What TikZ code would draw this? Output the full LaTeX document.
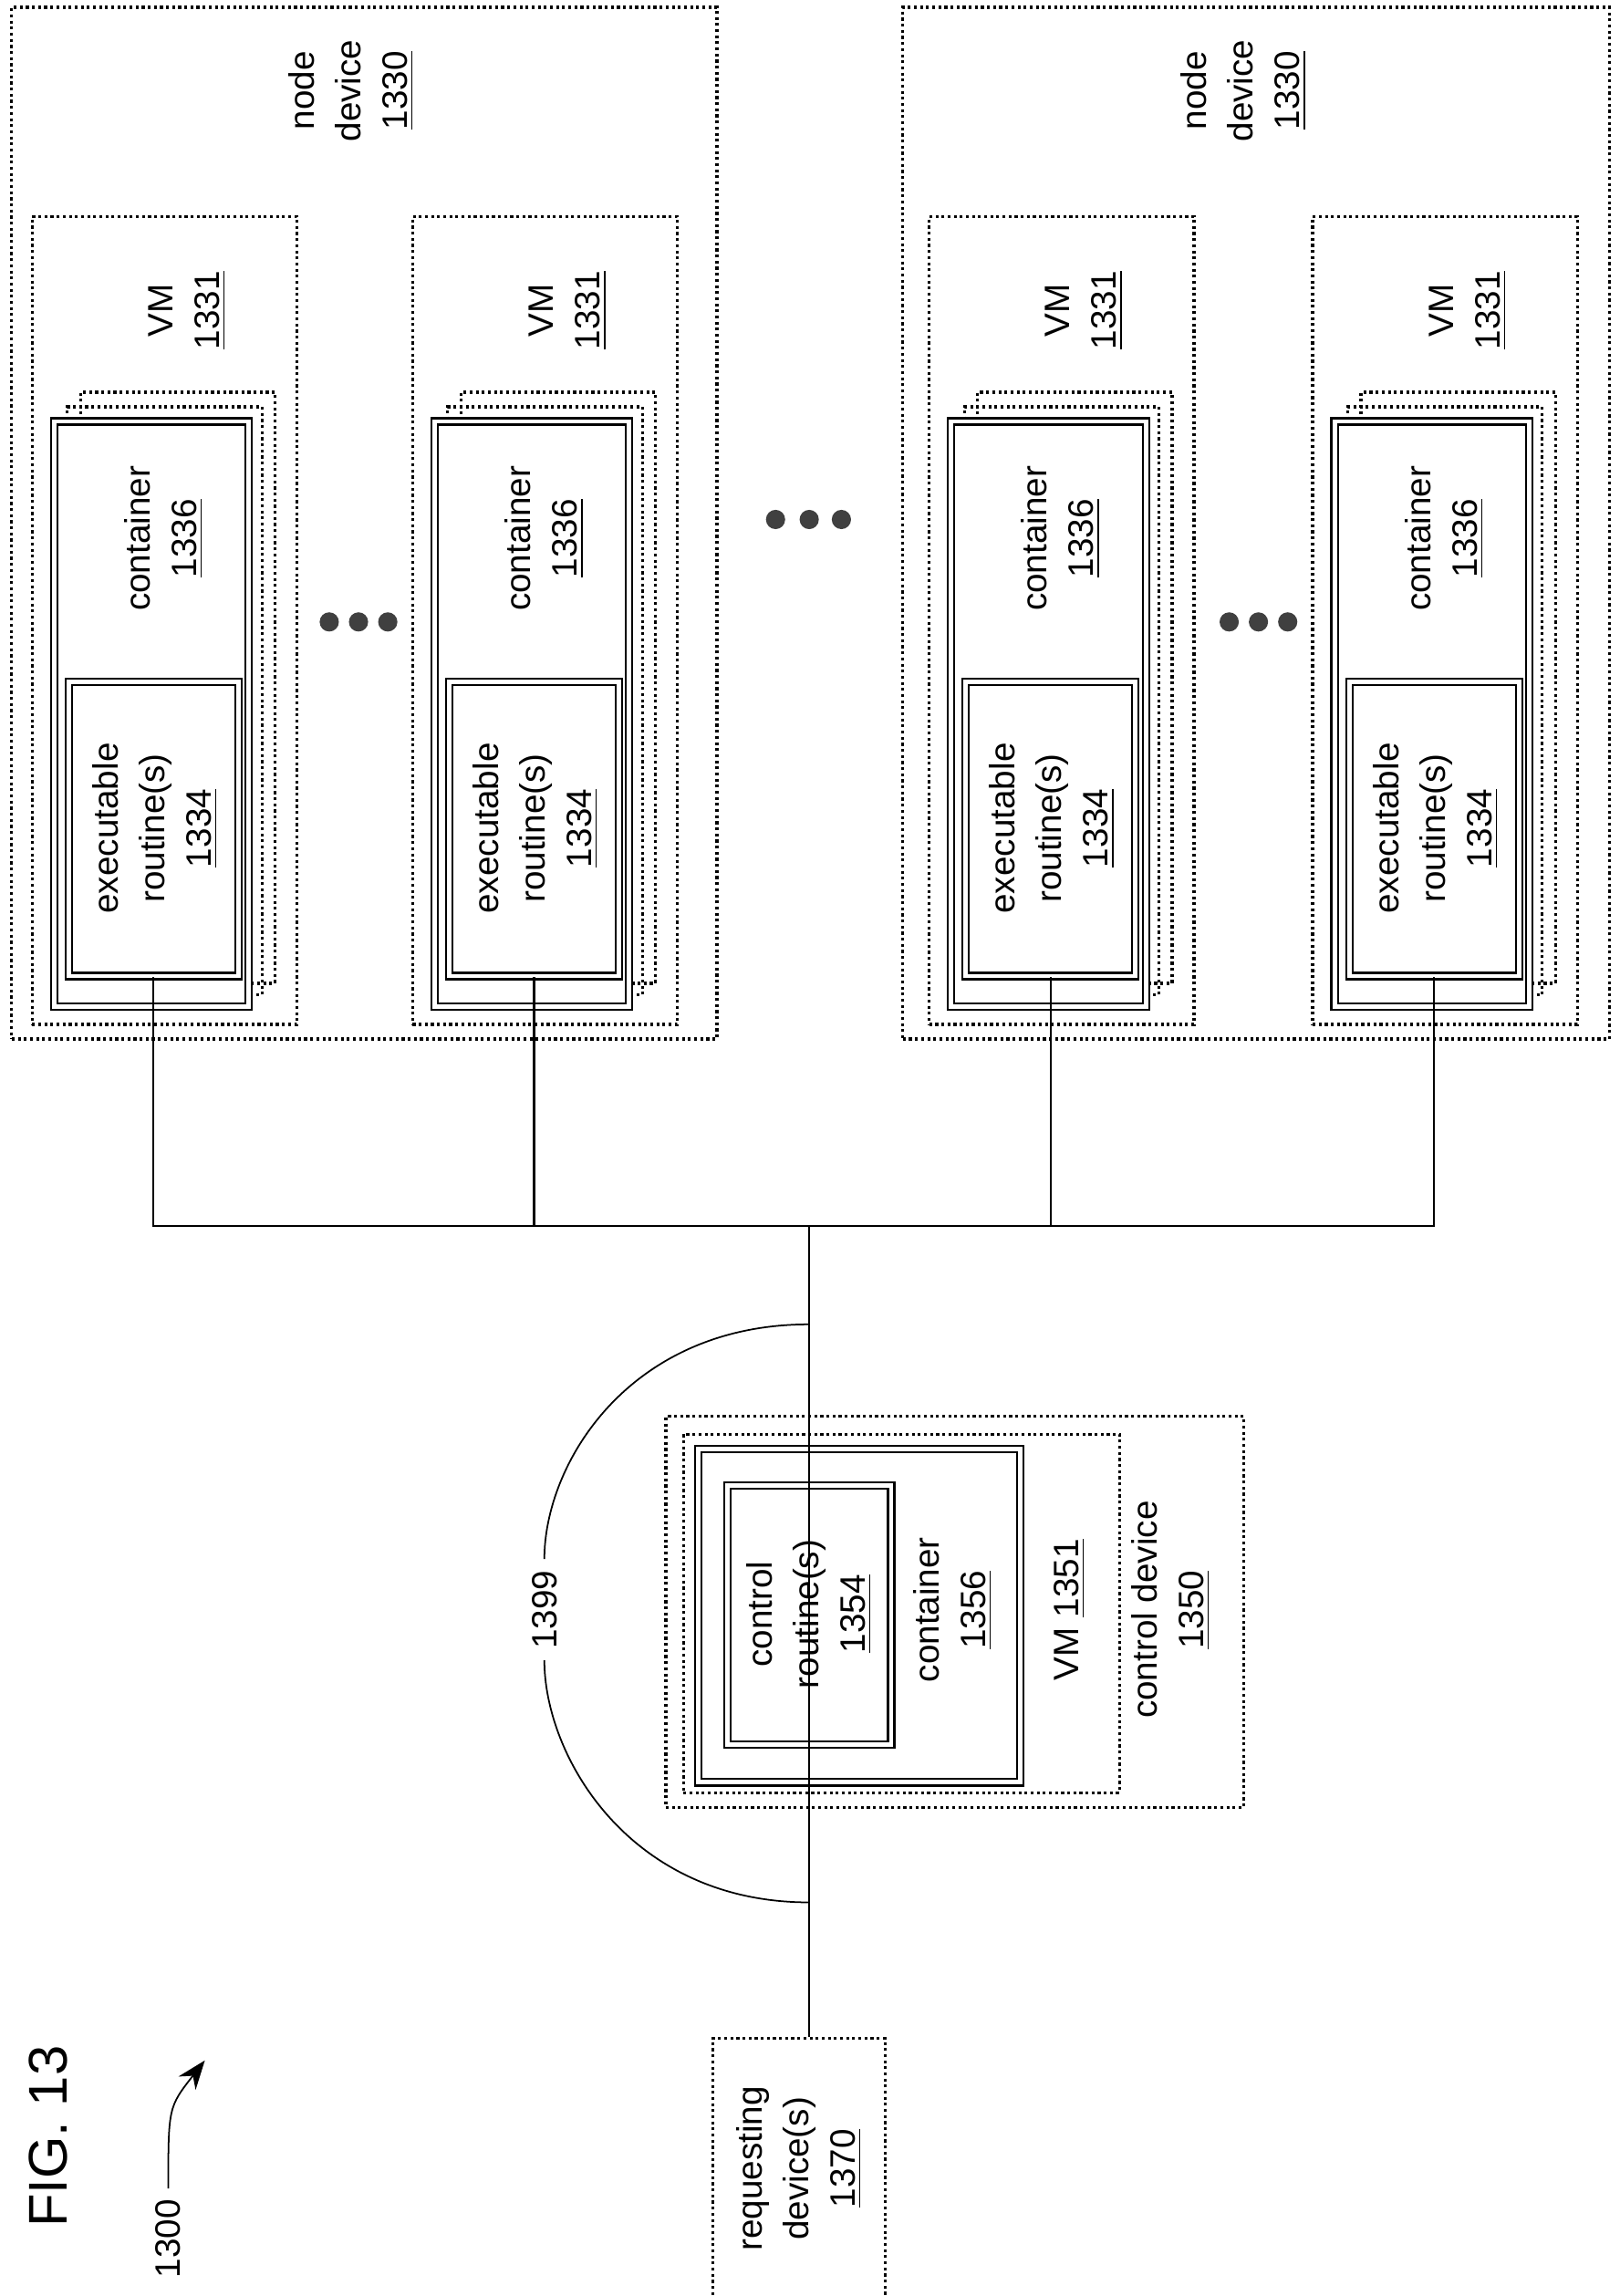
\documentclass[tikz,border=0pt]{standalone}
\usepackage{fontspec}
\setmainfont{Liberation Sans}
\usetikzlibrary{arrows.meta,fit,positioning}

\tikzset{
  dotbox/.style={draw, densely dotted, line width=0.9pt, inner sep=0pt},
  solbox/.style={draw, line width=0.6pt, double, double distance=1.4pt, inner sep=0pt},
  lbl/.style={rotate=90, align=center, font=\fontsize{11}{14.5}\selectfont},
  wire/.style={line width=0.6pt},
  blob/.style={circle, fill=black!75, inner sep=0pt, minimum size=6pt}
}

\newcommand{\vmstack}[2]{% #1 = x offset, #2 = name
  \node[dotbox, fit={(#1+22,148)(#1+203,700)}] (#2vm) {};
  \node[dotbox, fit={(#1+55,268)(#1+188,672)}] (#2c3) {};
  \node[dotbox, fit={(#1+46,278)(#1+179,680)}] (#2c2) {};
  \node[solbox, fill=white, fit={(#1+37,288)(#1+170,688)}] (#2c) {};
  \node[solbox, fit={(#1+47,466)(#1+163,667)}] (#2ex) {};
  \node[lbl] at (#1+106,566) (#2exl) {executable\\routine(s)\\\underline{1334}};
  \node[lbl] at (#1+112,368) (#2cl) {container\\\underline{1336}};
  \node[lbl] at (#1+128,212) (#2vml) {VM\\\underline{1331}};
}

\begin{document}
\begin{tikzpicture}[x=0.016043cm, y=-0.016043cm]
  \useasboundingbox (0,0) rectangle (1107,1569);

  % node devices
  \node[dotbox, fit={(8,5)(490,710)}] (nd1) {};
  \node[dotbox, fit={(617,5)(1100,710)}] (nd2) {};
  \node[lbl] at (240,62) (nd1l) {node\\device\\\underline{1330}};
  \node[lbl] at (850,62) (nd2l) {node\\device\\\underline{1330}};
  \vmstack{0}{a}
  \vmstack{260}{b}
  \vmstack{613}{c}
  \vmstack{875}{d}

  % ellipsis dots
  \foreach \xx in {225,245,265,530,553,575,840,860,880} {
    \pgfmathsetmacro{\yy}{(\xx>500 && \xx<600) ? 355 : 425}
    \node[blob] at (\xx,\yy) {};
  }

  % control device
  \node[dotbox, fit={(455,968)(850,1235)}] (cd) {};
  \node[dotbox, fit={(467,980)(765,1225)}] (cvm) {};
  \node[solbox, fit={(477,990)(697,1218)}] (cc) {};
  \node[solbox, fit={(497,1015)(609,1192)}] (cr) {};
  \node[lbl] at (553,1103) (crl) {control\\routine(s)\\\underline{1354}};
  \node[lbl] at (651,1100) (ccl) {container\\\underline{1356}};
  \node[lbl] at (731,1100) (cvml) {VM \underline{1351}};
  \node[lbl] at (800,1100) (cdl) {control device\\\underline{1350}};

  % requesting device
  \node[dotbox, fit={(487,1393)(605,1575)}] (rq) {};
  \node[lbl] at (546,1482) (rql) {requesting\\device(s)\\\underline{1370}};

  % bus
  \coordinate (hub) at (553,838);
  \draw[wire] (aex.south) -- (aex.south |- hub) -- (dex.south |- hub) -- (dex.south);
  \draw[wire] (bex.south) -- (bex.south |- hub);
  \draw[wire] (cex.south) -- (cex.south |- hub);
  \draw[wire] (hub) -- (hub |- rq.north);

  % 1399 arc
  \node[lbl, font=\fontsize{11}{13}\selectfont] at (372,1100) (netl) {1399};
  \coordinate (arcT) at (553,905);
  \coordinate (arcB) at (553,1300);
  \draw[line width=0.5pt] (arcT) .. controls (430,905) and (372,1000) .. (netl.east);
  \draw[line width=0.5pt] (netl.west) .. controls (372,1200) and (430,1300) .. (arcB);

  % figure label
  \node[lbl, font=\fontsize{17}{20}\selectfont] at (33,1460) (fig) {FIG. 13};
  \node[lbl, font=\fontsize{11}{13}\selectfont] at (115,1530) (ref) {1300};
  \coordinate (refh) at (140,1408);
  \draw[line width=0.5pt, -{Stealth[length=9pt]}] (ref.east) .. controls (115,1440) .. (refh);
\end{tikzpicture}
\end{document}
